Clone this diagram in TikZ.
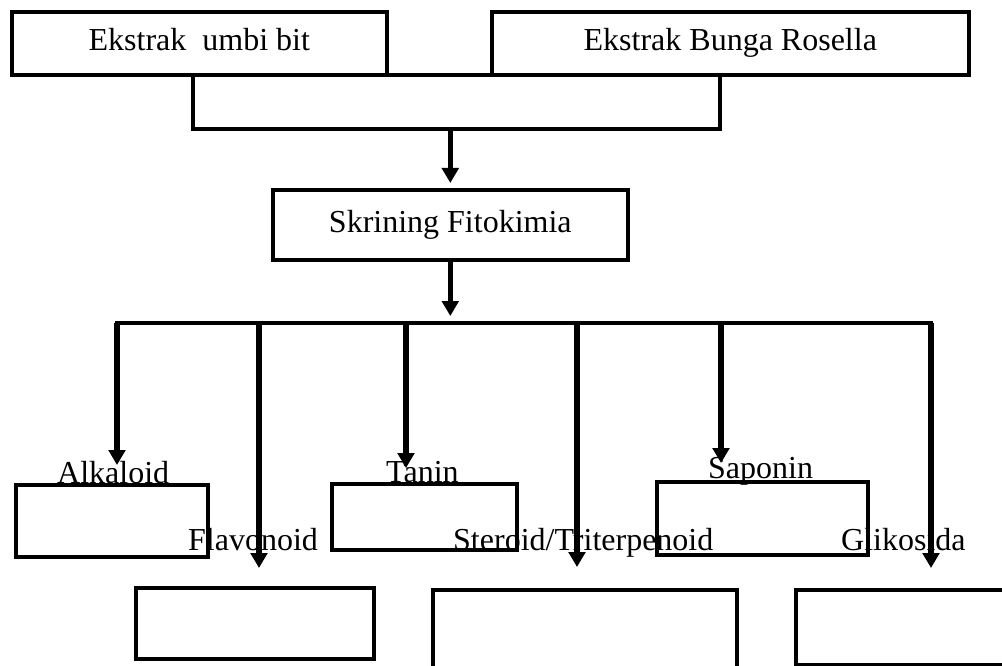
\documentclass[tikz,border=0pt]{standalone}
\usepackage{fontspec}
\setmainfont{Liberation Serif}
\usetikzlibrary{arrows.meta}
\begin{document}
\begin{tikzpicture}[x=1pt,y=-1pt,
  box/.style={draw, line width=3.6pt, rectangle, inner sep=0pt, anchor=north west,
    font=\fontsize{32}{38}\selectfont, text height=22pt, text depth=7pt},
  lbl/.style={anchor=base west, inner sep=0pt, font=\fontsize{32}{38}\selectfont},
  arr/.style={line width=5.4pt, -{Triangle[width=16.5pt,length=15pt]}},
  barline/.style={line width=3.4pt, line cap=rect}]
\useasboundingbox (0,0) rectangle (1002,666);
\clip (0,0) rectangle (1002,666);

% labels (behind the lines)
\node[lbl] (lAlk) at (57,483) {Alkaloid};
\node[lbl] (lTan) at (386,482) {Tanin};
\node[lbl] (lSap) at (708,478) {Saponin};
\node[lbl] (lFla) at (188,550) {Flavonoid};
\node[lbl] (lSte) at (453,550) {Steroid/Triterpenoid};
\node[lbl] (lGli) at (841,550) {Glikosida};

% top boxes
\node[box, minimum width=375pt, minimum height=63pt] (ekb) at (10,10) {Ekstrak\ \ umbi bit};
\node[box, minimum width=477pt, minimum height=63pt] (ekr) at (490,10) {Ekstrak Bunga Rosella};
\node[box, minimum width=527pt, minimum height=54pt] (gab) at (191,73) {};
\node[box, minimum width=355pt, minimum height=70pt] (skr) at (271,188) {Skrining Fitokimia};

% result boxes
\node[box, minimum width=192pt, minimum height=72pt] (alk) at (14,483) {};
\node[box, minimum width=185pt, minimum height=66pt] (tan) at (330,482) {};
\node[box, minimum width=211pt, minimum height=73pt] (sap) at (655,480) {};
\node[box, minimum width=238pt, minimum height=71pt] (fla) at (134,586) {};
\node[box, minimum width=304pt, minimum height=110pt] (ste) at (431,588) {};
\node[box, minimum width=240pt, minimum height=75pt] (gli) at (794,588) {};

% connectors
\draw[arr, shorten >=5pt] (gab.south -| skr.north) -- (skr.north);
\coordinate (bL) at (117,323);
\coordinate (bR) at (931,323);
\draw[arr, shorten >=7pt] (skr.south) -- (skr.south |- bL);
\draw[barline] (bL) -- (bR);

\coordinate (bFla) at (259,323);
\coordinate (bTan) at (406,323);
\coordinate (bSte) at (577,323);
\coordinate (bSap) at (721,323);

\coordinate (tAlk) at (117,465);
\coordinate (tFla) at (259,568);
\coordinate (tTan) at (406,468);
\coordinate (tSte) at (577,567);
\coordinate (tSap) at (721,463);
\coordinate (tGli) at (931,568);

\draw[arr] (bL) -- (tAlk);
\draw[arr] (bFla) -- (tFla);
\draw[arr] (bTan) -- (tTan);
\draw[arr] (bSte) -- (tSte);
\draw[arr] (bSap) -- (tSap);
\draw[arr] (bR) -- (tGli);
\end{tikzpicture}
\end{document}
